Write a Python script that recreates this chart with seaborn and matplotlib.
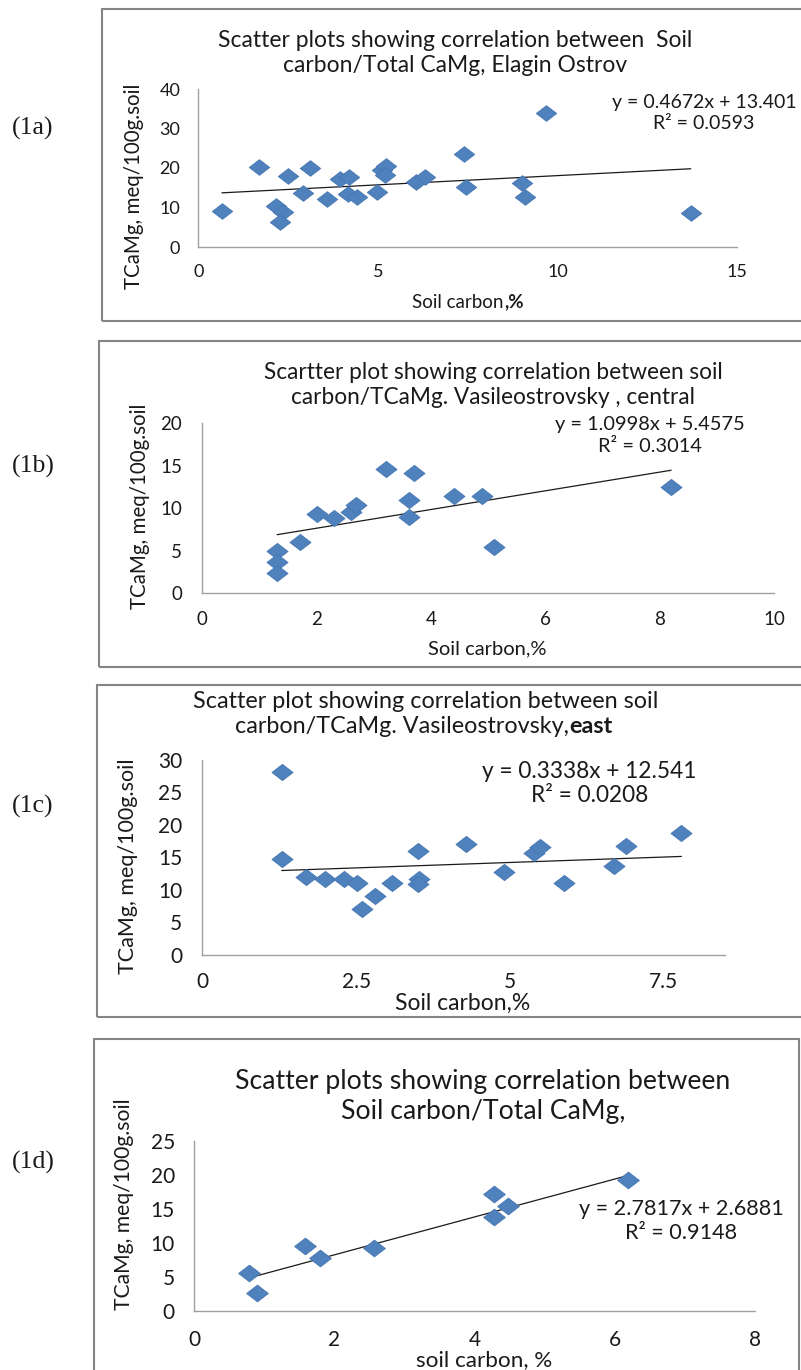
import numpy as np
import pandas as pd
import matplotlib
matplotlib.use("Agg")
import matplotlib.pyplot as plt
import seaborn as sns
from matplotlib.patches import Rectangle
from matplotlib.path import Path

# (1a) Elagin Ostrov
carbon_a = [0.66, 1.70, 2.17, 2.36, 2.29, 2.51, 2.92, 3.11, 3.59, 3.94, 4.20, 4.18,
            4.41, 4.97, 5.12, 5.22, 5.19, 6.05, 6.30, 7.39, 7.46, 9.01, 9.10, 9.69, 13.71]
camg_a = [9.1, 20.3, 10.4, 8.8, 6.3, 17.9, 13.7, 20.1, 12.1, 17.2, 17.6, 13.4,
          12.7, 13.8, 19.6, 20.5, 18.2, 16.5, 17.8, 23.5, 15.1, 16.1, 12.7, 34.0, 8.5]
fit_a = (0.4672, 13.401, 0.0593)

# (1b) Vasileostrovsky, central
carbon_b = [1.31, 1.31, 1.31, 1.71, 2.01, 2.31, 2.60, 2.69, 3.22, 3.61, 3.61, 3.70,
            4.40, 4.90, 5.10, 8.20]
camg_b = [4.98, 3.73, 2.35, 6.08, 9.33, 8.82, 9.6, 10.4, 14.6, 10.98, 8.94, 14.2,
          11.45, 11.45, 5.41, 12.55]
fit_b = (1.0998, 5.4575, 0.3014)

# (1c) Vasileostrovsky, east
carbon_c = [1.29, 1.29, 1.69, 2.00, 2.30, 2.51, 2.60, 2.81, 3.09, 3.50, 3.52, 3.50,
            4.29, 4.91, 5.40, 5.49, 5.88, 6.69, 6.89, 7.79]
camg_c = [28.1, 14.7, 11.9, 11.6, 11.6, 11.0, 7.1, 9.1, 11.1, 16.0, 11.6, 10.9,
          17.1, 12.8, 15.7, 16.6, 11.0, 13.7, 16.8, 18.8]
fit_c = (0.3338, 12.541, 0.0208)

# (1d)
carbon_d = [0.78, 0.89, 1.58, 1.79, 2.57, 4.28, 4.28, 4.48, 6.19]
camg_d = [5.63, 2.59, 9.59, 7.83, 9.2, 17.2, 13.75, 15.4, 19.3]
fit_d = (2.7817, 2.6881, 0.9148)

sns.set_style("white")
plt.rcParams["font.family"] = ["Lato", "DejaVu Sans"]

W, H = 801, 1370
fig = plt.figure(figsize=(W / 100, H / 100), dpi=100)
fig.patch.set_facecolor("white")

# wide excel-style diamond
diamond = Path([(-1, 0), (0, 0.77), (1, 0), (0, -0.77), (-1, 0)], closed=True)


def fx(x):
    return x / W


def fy(y):
    return 1 - y / H


def box(x0, y0, x1, y1):
    fig.patches.append(Rectangle((fx(x0), fy(y1)), fx(x1 - x0), (y1 - y0) / H,
                                 transform=fig.transFigure, fill=False,
                                 edgecolor="#858585", linewidth=1.5))


def txt(x, y, s, fs, **kw):
    return fig.text(fx(x), fy(y), s, ha=kw.pop("ha", "center"), va=kw.pop("va", "center"),
                    fontsize=fs, color="#1a1a1a", **kw)


def tail(prev, s, fs, **kw):
    # continue a text run right after `prev` (used for the bold bits)
    return fig.add_artist(matplotlib.text.Annotation(
        s, xy=(1, 0), xycoords=prev, ha="left", va="bottom", fontsize=fs,
        color="#1a1a1a", **kw))


def panel(rect, xs, ys, fit, xlim, xticks, xticklabels, ylim, yticks,
          fs, xpad, ypad, ticks=True, msize=215):
    x0, y0_px, x1, y_top = rect
    ax = fig.add_axes([fx(x0), fy(y0_px), fx(x1 - x0), (y0_px - y_top) / H])
    df = pd.DataFrame({"carbon": xs, "camg": ys})
    sns.scatterplot(data=df, x="carbon", y="camg", marker=diamond, s=msize,
                    color="#4f81bd", edgecolor="#4677b3", linewidth=0.6,
                    ax=ax, zorder=3, clip_on=False)
    m, b, r2 = fit
    lx = np.array([min(xs), max(xs)])
    ax.plot(lx, m * lx + b, color="#1a1a1a", linewidth=0.9, zorder=2)
    ax.set_xlim(*xlim)
    ax.set_ylim(*ylim)
    ax.set_xticks(xticks)
    ax.set_xticklabels(xticklabels)
    ax.set_yticks(yticks)
    ax.set_xlabel("")
    ax.set_ylabel("")
    for s in ["top", "right"]:
        ax.spines[s].set_visible(False)
    for s in ["left", "bottom"]:
        ax.spines[s].set_color("#a0a0a0")
        ax.spines[s].set_linewidth(1.0)
    ax.tick_params(axis="x", labelsize=fs, colors="#a0a0a0", labelcolor="#1a1a1a",
                   length=3 if ticks else 0, width=1.0, pad=xpad)
    ax.tick_params(axis="y", labelsize=fs, colors="#a0a0a0", labelcolor="#1a1a1a",
                   length=4.5 if ticks else 0, width=1.0, pad=ypad)
    ax.patch.set_alpha(0)
    return ax


ylab = "TCaMg, meq/100g.soil"
serif = "Liberation Serif"

# ---------- (1a) ----------
box(102, 9, 830, 321)
panel((198.2, 247, 737.1, 89), carbon_a, camg_a, fit_a, (0, 15), [0, 5, 10, 15],
      ["0", "5", "10", "15"], (0, 40), [0, 10, 20, 30, 40], fs=13, xpad=9.5, ypad=8.5)
txt(455, 53, "Scatter plots showing correlation between  Soil\ncarbon/Total CaMg, Elagin Ostrov",
    16.5, linespacing=1.28)
txt(704, 113, "y = 0.4672x + 13.401\nR\u00b2 = 0.0593", 14, linespacing=1.3)
t = txt(504, 302, "Soil carbon", 13.5, ha="right")
tail(t, ",%", 13.5, fontweight="bold")
txt(133.5, 186, ylab, 14.8, rotation=90)
txt(33, 128, "(1a)", 18.5, family=serif)

# ---------- (1b) ----------
box(98.6, 340.7, 830, 666.7)
panel((202.2, 593.3, 774, 423.3), carbon_b, camg_b, fit_b, (0, 10), [0, 2, 4, 6, 8, 10],
      ["0", "2", "4", "6", "8", "10"], (0, 20), [0, 5, 10, 15, 20], fs=13.5, xpad=9.5, ypad=10,
      msize=230)
txt(493, 385, "Scartter plot showing correlation between soil\ncarbon/TCaMg. Vasileostrovsky , central",
    16.3, linespacing=1.28)
txt(650, 435.5, "y = 1.0998x + 5.4575\nR\u00b2 = 0.3014", 14.4, linespacing=1.3)
txt(487.5, 649, "Soil carbon,%", 14.5)
txt(140, 506, ylab, 14.8, rotation=90)
txt(33, 466, "(1b)", 18.5, family=serif)

# ---------- (1c) ----------
box(96.7, 685, 830, 1016.7)
panel((202.4, 954.7, 725, 760), carbon_c, camg_c, fit_c, (0, 8.5), [0, 2.5, 5, 7.5],
      ["0", "2.5", "5", "7.5"], (0, 30), [0, 5, 10, 15, 20, 25, 30], fs=15, xpad=9.5, ypad=10,
      msize=230)
txt(425.5, 701.7, "Scatter plot showing correlation between soil", 16.8)
t = txt(569, 726.7, "carbon/TCaMg. Vasileostrovsky,", 16.8, ha="right")
tail(t, "east", 16.8, fontweight="bold")
txt(589.5, 783.4, "y = 0.3338x + 12.541\nR\u00b2 = 0.0208", 16.3, linespacing=1.2)
txt(463, 1003, "Soil carbon,%", 16.5)
txt(128.3, 866.5, ylab, 15.5, rotation=90)
txt(33, 806, "(1c)", 18.5, family=serif)

# ---------- (1d) ----------
box(93.6, 1039.3, 799, 1400)
panel((194.3, 1311, 755.2, 1140.7), carbon_d, camg_d, fit_d, (0, 8), [0, 2, 4, 6, 8],
      ["0", "2", "4", "6", "8"], (0, 25), [0, 5, 10, 15, 20, 25], fs=15, xpad=14, ypad=14,
      ticks=False, msize=245)
txt(483, 1096, "Scatter plots showing correlation between\nSoil carbon/Total CaMg,",
    19.2, linespacing=1.25)
txt(681.5, 1221, "y = 2.7817x + 2.6881\nR\u00b2 = 0.9148", 15.6, linespacing=1.25)
txt(484.5, 1360, "soil carbon, %", 16.2)
txt(124, 1204, ylab, 15.2, rotation=90)
txt(33, 1162, "(1d)", 18.5, family=serif)

fig.savefig("out.png", dpi=100)
